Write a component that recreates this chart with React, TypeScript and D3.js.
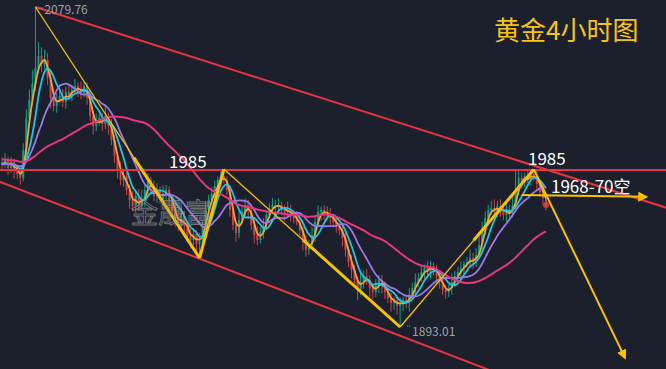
import React from 'react';
import * as d3 from 'd3';

const W = 666;
const H = 369;

// warm-up closes before the first visible candle (used only for moving averages)
const preCloses = [
  1996.2, 1993.8, 1998.1, 1995.4, 1991.0, 1993.7, 1997.9, 2000.3, 1996.8, 1994.1,
  1990.6, 1992.9, 1988.4, 1991.7, 1995.2, 1993.0, 1989.5, 1986.8, 1990.3, 1994.6,
  1992.1, 1988.9, 1985.7, 1989.2, 1992.5, 1990.0, 1986.4, 1988.8, 1991.9, 1989.3,
  1985.1, 1987.6, 1991.2, 1988.0, 1984.9, 1987.3, 1990.8, 1988.5, 1986.2, 1989.0,
];

const closes = [
  1987.6, 1990.5, 1985.8, 1989.3, 1984.6, 1982.3, 1980.0, 1996.3, 2015.0, 2025.5,
  2034.8, 2044.2, 2051.2, 2046.5, 2048.8, 2038.3, 2026.7, 2022.0, 2025.5, 2027.8,
  2024.3, 2030.2, 2027.8, 2031.3, 2033.7, 2031.3, 2029.0, 2033.7, 2026.7, 2016.2,
  2010.3, 2012.6, 2015.0, 2011.5, 2016.2, 2010.3, 2002.1, 1992.8, 1984.6, 1978.8,
  1981.1, 1973.0, 1967.1, 1963.6, 1969.5, 1963.6, 1967.1, 1973.0, 1978.8, 1975.3,
  1969.5, 1973.0, 1967.1, 1970.6, 1973.0, 1967.1, 1961.3, 1955.5, 1952.0, 1957.8,
  1952.0, 1946.1, 1943.8, 1947.3, 1941.4, 1943.8, 1952.0, 1961.3, 1967.1, 1970.6,
  1975.3, 1978.8, 1981.1, 1978.8, 1973.0, 1961.3, 1952.5, 1947.9, 1955.5, 1960.1,
  1964.2, 1961.3, 1952.5, 1946.7, 1943.8, 1948.5, 1952.5, 1958.4, 1962.5, 1964.2,
  1963.0, 1964.2, 1961.3, 1960.1, 1961.3, 1958.4, 1956.6, 1954.3, 1949.6, 1942.6,
  1938.0, 1940.9, 1946.7, 1954.3, 1960.1, 1961.3, 1958.4, 1959.5, 1956.6, 1954.3,
  1952.0, 1949.6, 1944.9, 1938.0, 1930.9, 1926.3, 1920.4, 1914.6, 1919.3, 1922.8,
  1920.4, 1915.8, 1913.4, 1916.9, 1920.4, 1917.5, 1913.4, 1909.9, 1907.0, 1908.8,
  1905.3, 1906.4, 1908.8, 1907.0, 1911.7, 1915.8, 1919.3, 1921.6, 1925.1, 1927.4,
  1925.1, 1928.6, 1926.3, 1922.8, 1919.3, 1914.6, 1913.4, 1915.8, 1919.3, 1922.8,
  1925.1, 1927.4, 1929.8, 1930.9, 1933.3, 1930.9, 1935.0, 1940.9, 1949.6, 1956.6,
  1961.3, 1962.5, 1960.1, 1963.6, 1961.3, 1958.4, 1961.3, 1958.9, 1964.2, 1973.0,
  1980.0, 1977.6, 1981.1, 1978.8, 1982.3, 1981.1, 1976.5, 1971.8, 1968.3, 1964.2,
];

const upperWicks = [
  3, 4, 2, 3, 2, 3, 2, 4, 5, 6,
  8, 35.6, 8, 5, 6, 4, 3, 5, 4, 3,
  4, 3, 5, 3, 4, 2, 5, 3, 2, 4,
  3, 5, 4, 3, 6, 2, 4, 3, 2, 5,
  4, 2, 3, 5, 3, 4, 6, 3, 4, 2,
  3, 4, 2, 5, 3, 2, 3, 4, 2, 5,
  3, 2, 4, 3, 2, 4, 3, 5, 3, 4,
  3, 2, 3, 4.1, 2, 3, 4, 2, 5, 3,
  4, 3, 2, 3, 5, 3, 4, 2, 3, 4,
  3, 4, 2, 3, 5, 3, 2, 4, 3, 2,
  4, 3, 5, 3, 4, 2, 3, 4, 3, 2,
  3, 2, 4, 3, 2, 4, 3, 2, 5, 3,
  4, 3, 2, 4, 3, 3, 2, 4, 3, 2,
  3, 4, 2, 3, 4, 3, 5, 3, 4, 2,
  4, 3, 2, 3, 2, 4, 3, 2, 5, 3,
  3, 4, 2, 3, 5, 3, 4, 6, 5, 4,
  3, 4, 5, 3, 4, 3, 5, 3, 6, 11,
  4.6, 3, 2, 4, 2, 2.7, 3, 2, 3, 2,
];

const lowerWicks = [
  3, 2, 4, 3, 5, 3, 4, 2, 3, 2,
  3, 4, 3, 5, 3, 4, 6, 3, 4, 2,
  3, 4, 2, 3, 2, 4, 3, 2, 4, 3,
  5, 3, 2, 4, 3, 5, 3, 4, 5, 3,
  4, 3, 5, 3, 4, 3, 2, 4, 3, 5,
  3, 4, 2, 3, 4, 5, 3, 4, 3, 2,
  4, 3, 5, 3, 4, 8.1, 3, 2, 4, 3,
  2, 3, 4, 2, 3, 4, 3, 5, 3, 2,
  3, 4, 3, 5, 3, 2, 4, 3, 2, 3,
  4, 2, 3, 5, 3, 4, 3, 2, 4, 5,
  4, 3, 2, 4, 3, 5, 3, 2, 4, 3,
  4, 3, 5, 4, 3, 5, 4, 6, 3, 4,
  3, 5, 4, 3, 4, 5, 4, 3, 5, 4,
  5, 12.3, 4, 3, 5, 3, 4, 3, 2, 4,
  3, 4, 3, 5, 4, 3, 4, 3, 4, 3,
  4, 3, 4, 2, 3, 4, 3, 2, 4, 3,
  4, 3, 5, 3, 4, 3, 4, 3, 2, 3,
  3, 4, 3, 2, 3, 3, 4, 3, 4, 3,
];

// swing points of the zig-zag (candle index, price)
const pivotIdx = [11, 65, 73, 131, 175];
const pivotPrice = [2079.76, 1933.3, 1985.2, 1893.01, 1985.0];
const targetIdx = 205;
const targetPrice = 1875;
const shortIdx = [171, 212];
const shortPrice = [1970.0, 1969.0];
const upperChIdx = [11, 225];
const upperChPrice = [2079.76, 1959.0];
const lowerChIdx = [-1, 170];
const lowerChPrice = [1977.9, 1861.3];
const resistance = 1984.6;
const maPeriods = [3, 6, 12, 40];
const maColors = ['#f5a23c', '#27c4e4', '#9a78e6', '#e8357d'];

const title = '黄金4小时图';
const watermark = '金晟富';
const highLabel = '2079.76';
const lowLabel = '1893.01';
const levelLabel = '1985';
const shortLabel = '1968-70空';

const BG = '#1b202c';
const UP = '#139f82';
const DOWN = '#d2403f';
const RED = '#e8343f';
const YEL = '#f7c300';

export default function App() {
  const n = closes.length;
  const x = d3.scaleLinear().domain([0, n - 1]).range([2, 546]);
  const y = d3.scaleLinear().domain([1893.01, 2079.76]).range([327, 7]);

  const all = preCloses.concat(closes);
  const off = preCloses.length;
  const mas = maPeriods.map((p) =>
    closes.map((_, i) => {
      const k = i + off;
      return d3.mean(all.slice(Math.max(0, k - p + 1), k + 1)) as number;
    })
  );

  const candles = closes.map((c, i) => {
    const o = i === 0 ? preCloses[preCloses.length - 1] : closes[i - 1];
    const hi = Math.max(o, c) + upperWicks[i];
    const lo = Math.min(o, c) - lowerWicks[i];
    return { i, o, c, hi, lo };
  });

  const line = d3
    .line<number>()
    .x((_, i) => x(i))
    .y((d) => y(d))
    .curve(d3.curveMonotoneX);

  const P = pivotIdx.map((i, k) => ({ i, p: pivotPrice[k] }));
  const seg = (a: { i: number; p: number }, b: { i: number; p: number }, t0 = 0, t1 = 1) => {
    const ia = a.i + (b.i - a.i) * t0;
    const pa = a.p + (b.p - a.p) * t0;
    const ib = a.i + (b.i - a.i) * t1;
    const pb = a.p + (b.p - a.p) * t1;
    return { x1: x(ia), y1: y(pa), x2: x(ib), y2: y(pb) };
  };
  const target = { i: targetIdx, p: targetPrice };
  const fontNum = '"Noto Sans CJK SC", "Noto Sans", sans-serif';

  return (
    <svg
      width={W}
      height={H}
      style={{ position: 'absolute', left: 0, top: 0, background: BG }}
    >
      <defs>
        <marker id="arr" viewBox="0 0 10 10" refX="8" refY="5" markerWidth="5" markerHeight="5" orient="auto">
          <path d="M0,0 L10,5 L0,10 z" fill={YEL} />
        </marker>
      </defs>
      <rect x={0} y={0} width={W} height={H} fill={BG} />

      {/* candles */}
      <g>
        {candles.map((d) => {
          const col = d.c >= d.o ? UP : DOWN;
          const top = y(Math.max(d.o, d.c));
          const bot = y(Math.min(d.o, d.c));
          return (
            <g key={d.i}>
              <line x1={x(d.i)} x2={x(d.i)} y1={y(d.hi)} y2={y(d.lo)} stroke={col} strokeWidth={1} />
              <rect x={x(d.i) - 1} y={top} width={2} height={Math.max(1, bot - top)} fill={col} />
            </g>
          );
        })}
      </g>

      {/* moving averages */}
      {mas.map((m, k) => (
        <path key={k} d={line(m) || ''} fill="none" stroke={maColors[k]} strokeWidth={k === 3 ? 2 : 1.8} />
      ))}

      {/* red channel and level lines */}
      <line
        x1={x(upperChIdx[0])} y1={y(upperChPrice[0])}
        x2={x(upperChIdx[1])} y2={y(upperChPrice[1])}
        stroke={RED} strokeWidth={2}
      />
      <line
        x1={x(lowerChIdx[0])} y1={y(lowerChPrice[0])}
        x2={x(lowerChIdx[1])} y2={y(lowerChPrice[1])}
        stroke={RED} strokeWidth={2}
      />
      <line x1={0} x2={W} y1={y(resistance)} y2={y(resistance)} stroke={RED} strokeWidth={2} />

      {/* yellow zig-zag */}
      <line {...seg(P[0], P[1])} stroke={YEL} strokeWidth={1.3} />
      <line {...seg(P[0], P[1], 0.6, 1)} stroke={YEL} strokeWidth={3} />
      <line {...seg(P[1], P[2])} stroke={YEL} strokeWidth={3} />
      <line {...seg(P[2], P[3])} stroke={YEL} strokeWidth={1.3} />
      <line {...seg(P[2], P[3], 0.45, 1)} stroke={YEL} strokeWidth={3} />
      <line {...seg(P[3], P[4])} stroke={YEL} strokeWidth={1.3} />
      <line {...seg(P[3], P[4], 0.55, 1)} stroke={YEL} strokeWidth={3} />
      <line {...seg(P[4], target)} stroke={YEL} strokeWidth={2} markerEnd="url(#arr)" />
      <line
        x1={x(shortIdx[0])} y1={y(shortPrice[0])}
        x2={x(shortIdx[1])} y2={y(shortPrice[1])}
        stroke={YEL} strokeWidth={2} markerEnd="url(#arr)"
      />

      {/* last price dot */}
      <circle cx={x(n - 1)} cy={y(closes[n - 1])} r={3} fill="#e04848" opacity={0.8} />

      {/* extreme markers */}
      <line x1={x(pivotIdx[0]) + 3} x2={x(pivotIdx[0]) + 8} y1={y(pivotPrice[0]) + 1} y2={y(pivotPrice[0]) + 1} stroke="#9aa0aa" strokeDasharray="1,1" />
      <text x={x(pivotIdx[0]) + 9} y={y(pivotPrice[0]) + 6.5} fill="#9ca1ab" fontSize={12} fontFamily={fontNum}>{highLabel}</text>
      <line x1={x(pivotIdx[3]) + 7} x2={x(pivotIdx[3]) + 11} y1={y(pivotPrice[3]) - 1} y2={y(pivotPrice[3]) - 1} stroke="#9aa0aa" strokeDasharray="1,1" />
      <text x={x(pivotIdx[3]) + 12} y={y(pivotPrice[3]) + 8.5} fill="#9ca1ab" fontSize={12} fontFamily={fontNum}>{lowLabel}</text>

      {/* labels */}
      <text x={169} y={168} fill="#ffffff" fontSize={17} fontFamily={fontNum}>{levelLabel}</text>
      <text x={528} y={165} fill="#ffffff" fontSize={17} fontFamily={fontNum}>{levelLabel}</text>
      <text x={551} y={193} fill="#ffffff" fontSize={17} fontFamily={fontNum}>{shortLabel}</text>

      {/* watermark */}
      <text x={131} y={223} fill="none" stroke="rgba(150,150,150,0.7)" strokeWidth={1} fontSize={27} fontFamily={fontNum}>{watermark}</text>

      {/* title */}
      <text x={494} y={40} fill="#f5c518" fontSize={26} fontFamily={fontNum}>{title}</text>
    </svg>
  );
}
